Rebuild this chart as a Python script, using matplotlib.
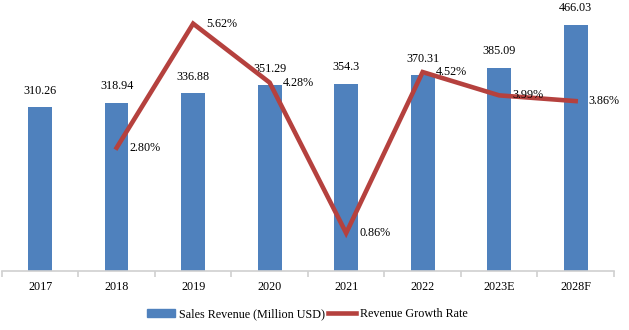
import matplotlib
matplotlib.use("Agg")
import matplotlib.pyplot as plt
from matplotlib.patches import Patch
from matplotlib.lines import Line2D

categories = ["2017", "2018", "2019", "2020", "2021", "2022", "2023E", "2028F"]
revenue = [310.26, 318.94, 336.88, 351.29, 354.3, 370.31, 385.09, 466.03]
revenue_labels = ["310.26", "318.94", "336.88", "351.29", "354.3", "370.31", "385.09", "466.03"]
growth_cats = ["2018", "2019", "2020", "2021", "2022", "2023E", "2028F"]
growth = [2.80, 5.62, 4.28, 0.86, 4.52, 3.99, 3.86]

plt.rcParams['font.family'] = ['Liberation Serif', 'DejaVu Serif']
bar_color = "#4F81BD"
line_color = "#B5413E"
fs = 8.7

fig = plt.figure(figsize=(6.29, 3.30), dpi=100)
ax = fig.add_axes([0.003, 0.179, 0.973, 0.8])
x = list(range(len(categories)))
ax.bar(x, revenue, width=0.31, color=bar_color, zorder=2)
ax.set_xlim(-0.5, len(categories) - 0.5)
ax.set_ylim(0, 500)
for xi, v, lab in zip(x, revenue, revenue_labels):
    ax.annotate(lab, (xi, v), xytext=(0, 7.5), textcoords="offset points",
                ha="center", va="bottom", fontsize=fs, color="black")
for s in ["top", "right", "left"]:
    ax.spines[s].set_visible(False)
ax.spines["bottom"].set_color("#D0D0D0")
ax.spines["bottom"].set_linewidth(1.2)
ax.set_yticks([])
ax.set_xticks([i - 0.5 for i in range(len(categories) + 1)], minor=False)
ax.set_xticklabels([])
ax.tick_params(axis="x", which="major", length=4, color="#D0D0D0", width=1.2)
ax.set_xticks(x, minor=True)
ax.set_xticklabels(categories, minor=True, fontsize=fs)
ax.tick_params(axis="x", which="minor", length=0, pad=7.5)

ax2 = ax.twinx()
gx = [categories.index(c) for c in growth_cats]
ax2.plot(gx, growth, color=line_color, lw=3.3, solid_joinstyle="miter", zorder=3)
ax2.set_ylim(0, 6)
ax2.set_yticks([])
for s in ["top", "right", "left", "bottom"]:
    ax2.spines[s].set_visible(False)
for xi, g in zip(gx, growth):
    ax2.annotate(f"{g:.2f}%", (xi, g), xytext=(9.5, 0), textcoords="offset points",
                 ha="left", va="center", fontsize=fs, color="black")

handles = [Patch(color=bar_color), Line2D([0], [0], color=line_color, lw=3.3)]
fig.legend(handles, ["Sales Revenue (Million USD)", "Revenue Growth Rate"],
           loc="center", bbox_to_anchor=(0.488, 0.048), ncol=2, frameon=False,
           fontsize=fs, handlelength=2.35, handleheight=0.55, columnspacing=0.25,
           handletextpad=0.3)

fig.savefig("out.png", dpi=100)
